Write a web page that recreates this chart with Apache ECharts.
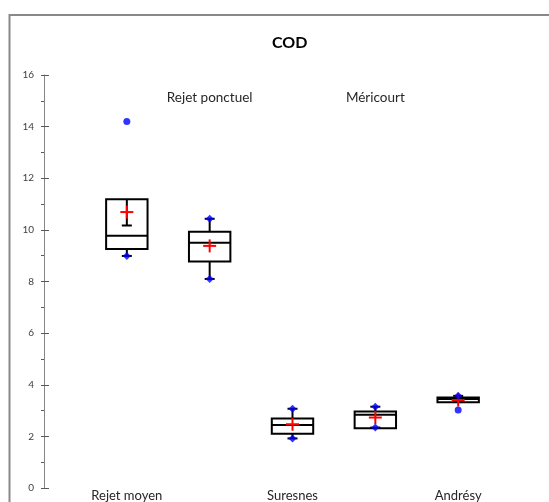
<!DOCTYPE html>
<html>
<head>
<meta charset="utf-8">
<script src="https://cdn.jsdelivr.net/npm/echarts@6/dist/echarts.min.js"></script>
<style>
html,body{margin:0;padding:0;background:#fff;}
#chart{width:549px;height:502px;}
</style>
</head>
<body>
<div id="chart"></div>
<script>
// ---- data ----
const categories = ['Rejet moyen', 'Rejet ponctuel', 'Suresnes', 'Méricourt', 'Andrésy'];
const whiskerLow  = [8.99, 8.10, 1.92, 2.34, 3.33];
const q1Values    = [9.26, 8.77, 2.10, 2.31, 3.32];
const medians     = [9.77, 9.50, 2.44, 2.84, 3.45];
const q3Values    = [11.19, 9.93, 2.69, 2.96, 3.51];
const whiskerHigh = [10.17, 10.43, 3.07, 3.15, 3.57];
const means       = [10.69, 9.38, 2.47, 2.73, 3.41];
const minMarkers  = [8.99, 8.10, 1.92, 2.34, null];
const maxMarkers  = [null, 10.43, 3.07, 3.15, 3.57];
const outlierCat  = [0, 4];
const outlierVal  = [14.2, 3.02];
const yTicks = [0, 2, 4, 6, 8, 10, 12, 14, 16];

// axis categories padded with empty slots at both ends
const axisCats = [''].concat(categories, ['']);
const boxData = categories.map((c, i) => [i + 1, whiskerLow[i], q1Values[i], medians[i], q3Values[i], whiskerHigh[i]]);
const meanData = categories.map((c, i) => [i + 1, means[i]]);
const minData = [], maxData = [];
categories.forEach((c, i) => {
  if (minMarkers[i] != null) minData.push([i + 1, minMarkers[i]]);
  if (maxMarkers[i] != null) maxData.push([i + 1, maxMarkers[i]]);
});
const outlierData = outlierCat.map((c, i) => [c + 1, outlierVal[i]]);

const chart = echarts.init(document.getElementById('chart'), null, {renderer: 'canvas'});
const FONT = 'Lato';

const option = {
  animation: false,
  backgroundColor: '#fff',
  title: {
    text: 'COD',
    left: 267, top: 30,
    textStyle: {fontFamily: FONT, fontSize: 16, fontWeight: 'bold', color: '#000'}
  },
  graphic: [{
    type: 'rect', silent: true, z: -1,
    shape: {x: 9.5, y: 15, width: 700, height: 700},
    style: {fill: 'none', stroke: '#898989', lineWidth: 2}
  }],
  grid: {left: 44, right: 8, top: 75, bottom: 14, containLabel: false},
  xAxis: [{
    type: 'category', position: 'bottom', data: axisCats, boundaryGap: false,
    axisLine: {show: false}, axisTick: {show: false}, splitLine: {show: false},
    axisLabel: {interval: 0, margin: 1, fontFamily: FONT, fontSize: 13, color: '#262626',
      formatter: (v, i) => (i % 2 === 1 ? v : '')}
  }, {
    type: 'category', position: 'top', data: axisCats, boundaryGap: false,
    axisLine: {show: false}, axisTick: {show: false}, splitLine: {show: false},
    axisLabel: {interval: 0, inside: true, margin: 16, fontFamily: FONT, fontSize: 13.5, color: '#262626',
      formatter: (v, i) => (i % 2 === 0 && i > 0 && i < axisCats.length - 1 ? v : '')}
  }],
  yAxis: [{
    type: 'value', position: 'left', min: yTicks[0], max: yTicks[yTicks.length - 1], interval: 2,
    axisLine: {show: true, lineStyle: {color: '#868686', width: 1}},
    axisTick: {show: true, inside: false, length: 3, lineStyle: {color: '#595959'}},
    minorTick: {show: true, splitNumber: 2, length: 3, lineStyle: {color: '#595959'}},
    splitLine: {show: false},
    axisLabel: {margin: 10, fontFamily: FONT, fontSize: 10, color: '#404040'}
  }, {
    type: 'value', position: 'left', min: yTicks[0], max: yTicks[yTicks.length - 1], interval: 2,
    axisLine: {show: false},
    axisTick: {show: true, inside: true, length: 5, lineStyle: {color: '#595959'}},
    splitLine: {show: false},
    axisLabel: {show: false}
  }],
  series: [{
    type: 'custom',
    name: 'box',
    xAxisIndex: 0, yAxisIndex: 0,
    encode: {x: 0, y: [1, 2, 3, 4, 5]},
    data: boxData,
    renderItem: function (params, api) {
      const x = api.value(0);
      const pLow = api.coord([x, api.value(1)]);
      const pQ1 = api.coord([x, api.value(2)]);
      const pMed = api.coord([x, api.value(3)]);
      const pQ3 = api.coord([x, api.value(4)]);
      const pHigh = api.coord([x, api.value(5)]);
      const band = api.size([1, 0])[0];
      const half = band * 0.25;
      const cap = 5;
      const cx = pQ1[0];
      const ls = {stroke: '#000', lineWidth: 2};
      return {
        type: 'group',
        children: [
          {type: 'rect', shape: {x: cx - half, y: pQ3[1], width: 2 * half, height: pQ1[1] - pQ3[1]},
            style: {fill: '#fff', stroke: '#000', lineWidth: 2}},
          {type: 'line', shape: {x1: cx, y1: pQ1[1], x2: cx, y2: pLow[1]}, style: ls},
          {type: 'line', shape: {x1: cx - cap, y1: pLow[1], x2: cx + cap, y2: pLow[1]}, style: ls},
          {type: 'line', shape: {x1: cx, y1: pQ3[1], x2: cx, y2: pHigh[1]}, style: ls},
          {type: 'line', shape: {x1: cx - cap, y1: pHigh[1], x2: cx + cap, y2: pHigh[1]}, style: ls},
          {type: 'line', shape: {x1: cx - half, y1: pMed[1], x2: cx + half, y2: pMed[1]}, style: ls}
        ]
      };
    }
  }, {
    type: 'custom',
    name: 'mean',
    xAxisIndex: 0, yAxisIndex: 0,
    encode: {x: 0, y: 1},
    data: meanData,
    z: 3,
    renderItem: function (params, api) {
      const p = api.coord([api.value(0), api.value(1)]);
      const s = 6.5;
      const ls = {stroke: '#ff0000', lineWidth: 2};
      return {
        type: 'group',
        children: [
          {type: 'line', shape: {x1: p[0] - s, y1: p[1], x2: p[0] + s, y2: p[1]}, style: ls},
          {type: 'line', shape: {x1: p[0], y1: p[1] - s, x2: p[0], y2: p[1] + s}, style: ls}
        ]
      };
    }
  }, {
    type: 'scatter', name: 'min', data: minData, symbol: 'diamond', symbolSize: 8,
    itemStyle: {color: '#0000ff'}, z: 4
  }, {
    type: 'scatter', name: 'max', data: maxData, symbol: 'diamond', symbolSize: 8,
    itemStyle: {color: '#0000ff'}, z: 4
  }, {
    type: 'scatter', name: 'outliers', data: outlierData, symbol: 'circle', symbolSize: 7,
    itemStyle: {color: '#0000ff'}, z: 4
  }]
};
chart.setOption(option);
</script>
</body>
</html>
